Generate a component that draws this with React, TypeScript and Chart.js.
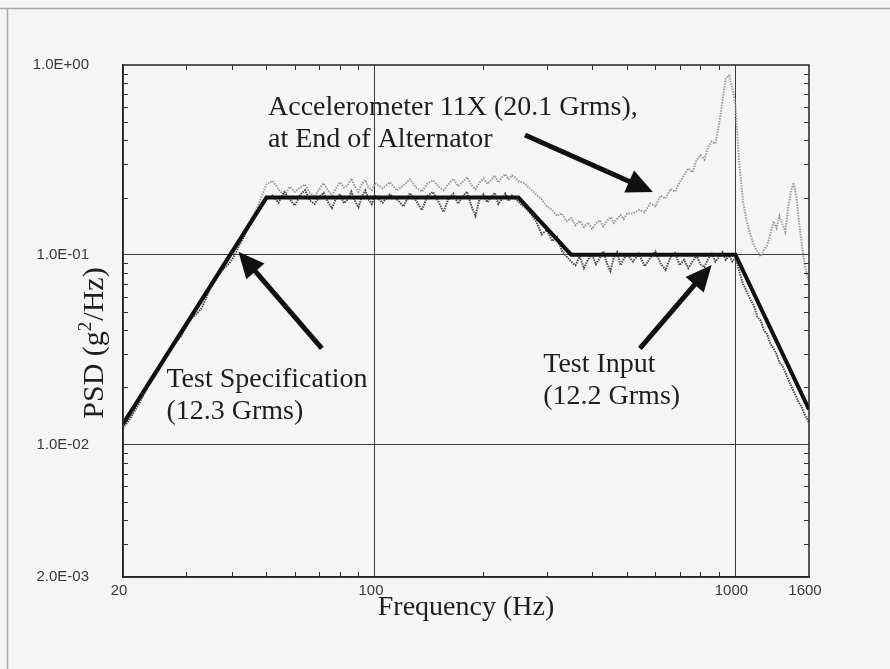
import React, { useEffect, useRef } from 'react';
import { Chart, registerables } from 'chart.js';

Chart.register(...registerables);

// Shared frequency grid of the measured traces (Hz)
const FREQ = [
  20, 21, 22, 23, 24, 25, 26, 27, 28, 29, 30, 31, 32, 33, 34, 35, 36, 37, 38, 39, 40, 41, 42, 43, 44, 45, 46, 47, 48, 49, 50,
  52, 54, 56, 58, 60, 62, 64, 66, 68, 70, 72, 74, 76, 78, 80, 82, 84, 86, 88, 90, 92, 94, 96, 98, 100,
  105, 110, 115, 120, 125, 130, 135, 140, 145, 150, 155, 160, 165, 170, 175, 180, 185, 190, 195, 200, 205, 210, 215, 220, 225, 230, 235, 240, 245, 250,
  260, 270, 280, 290, 300, 310, 320, 330, 340, 350, 360, 370, 380, 390, 400, 410, 420, 430, 440, 450, 460, 470, 480, 490, 500,
  520, 540, 560, 580, 600, 620, 640, 660, 680, 700, 720, 740, 760, 780, 800, 820, 840, 860, 880, 900, 920, 940, 960, 980, 1000,
  1025, 1050, 1075, 1100, 1125, 1150, 1175, 1200, 1225, 1250, 1275, 1300, 1325, 1350, 1375, 1400, 1425, 1450, 1475, 1500, 1525, 1550, 1575, 1600,
];

// Test Input (12.2 Grms), g^2/Hz
const INPUT_PSD = [
  0.0122, 0.0138, 0.016, 0.0188, 0.0215, 0.0242, 0.0275, 0.0312, 0.0344, 0.0372, 0.0418, 0.0462, 0.0488, 0.052, 0.059, 0.0672, 0.0728, 0.079, 0.0842, 0.088, 0.0935, 0.101, 0.112, 0.121, 0.133, 0.144, 0.152, 0.164, 0.178, 0.185, 0.196,
  0.205, 0.188, 0.214, 0.196, 0.182, 0.207, 0.219, 0.193, 0.185, 0.201, 0.212, 0.19, 0.176, 0.198, 0.209, 0.187, 0.195, 0.215, 0.192, 0.178, 0.203, 0.218, 0.196, 0.185, 0.205,
  0.188, 0.208, 0.196, 0.18, 0.211, 0.193, 0.172, 0.205, 0.214, 0.19, 0.168, 0.198, 0.21, 0.186, 0.202, 0.215, 0.181, 0.16, 0.196, 0.208, 0.189, 0.201, 0.212, 0.185, 0.197, 0.21, 0.192, 0.205, 0.198, 0.19,
  0.178, 0.165, 0.15, 0.128, 0.135, 0.118, 0.124, 0.105, 0.098, 0.092, 0.088, 0.098, 0.085, 0.094, 0.101, 0.089, 0.096, 0.104, 0.09, 0.082, 0.097, 0.103, 0.088, 0.095, 0.1,
  0.092, 0.101, 0.087, 0.096, 0.104, 0.09, 0.083, 0.097, 0.102, 0.088, 0.094, 0.085, 0.092, 0.099, 0.089, 0.086, 0.095, 0.101, 0.092, 0.097, 0.103, 0.094, 0.099, 0.092, 0.096,
  0.082, 0.07, 0.064, 0.058, 0.054, 0.047, 0.045, 0.04, 0.038, 0.034, 0.032, 0.03, 0.027, 0.026, 0.024, 0.022, 0.0205, 0.019, 0.0178, 0.0166, 0.0158, 0.0146, 0.0138, 0.013,
];

// Accelerometer 11X (20.1 Grms), at End of Alternator, g^2/Hz
const ACCEL_PSD = [
  0.0135, 0.015, 0.017, 0.02, 0.0228, 0.0255, 0.029, 0.0322, 0.036, 0.04, 0.044, 0.048, 0.053, 0.0585, 0.064, 0.07, 0.076, 0.083, 0.09, 0.096, 0.104, 0.112, 0.12, 0.129, 0.139, 0.15, 0.162, 0.176, 0.193, 0.215, 0.235,
  0.245, 0.222, 0.205, 0.228, 0.215, 0.226, 0.234, 0.212, 0.202, 0.221, 0.238, 0.219, 0.206, 0.224, 0.241, 0.226, 0.232, 0.252, 0.229, 0.214, 0.236, 0.248, 0.226, 0.219, 0.238,
  0.224, 0.241, 0.218, 0.232, 0.25, 0.226, 0.215, 0.238, 0.247, 0.229, 0.219, 0.236, 0.251, 0.23, 0.242, 0.256, 0.233, 0.221, 0.24, 0.252, 0.236, 0.248, 0.262, 0.24, 0.255, 0.266, 0.25, 0.262, 0.255, 0.245,
  0.238, 0.222, 0.208, 0.196, 0.18, 0.172, 0.16, 0.165, 0.15, 0.156, 0.143, 0.151, 0.14, 0.148, 0.137, 0.146, 0.152, 0.141, 0.15, 0.158, 0.147, 0.155, 0.162, 0.154, 0.165,
  0.165, 0.172, 0.168, 0.186, 0.18, 0.205, 0.198, 0.222, 0.215, 0.24, 0.262, 0.285, 0.272, 0.315, 0.335, 0.318, 0.37, 0.395, 0.385, 0.48, 0.64, 0.85, 0.88, 0.76, 0.62,
  0.3, 0.19, 0.15, 0.128, 0.112, 0.104, 0.098, 0.106, 0.112, 0.128, 0.15, 0.138, 0.16, 0.145, 0.132, 0.175, 0.215, 0.24, 0.205, 0.15, 0.118, 0.092, 0.08, 0.072,
];

// Test Specification (12.3 Grms) breakpoints
const SPEC_FREQ = [20, 50, 250, 350, 1000, 1600];
const SPEC_PSD = [0.0128, 0.2, 0.2, 0.1, 0.1, 0.0153];

// Axes
const X_TICKS = [20, 100, 1000, 1600];
const X_TICK_LABELS = ['20', '100', '1000', '1600'];
const X_GRID = [100, 1000];
const X_MINOR = [30, 40, 50, 60, 70, 80, 90, 200, 300, 400, 500, 600, 700, 800, 900];
const Y_TICKS = [0.002, 0.01, 0.1, 1];
const Y_TICK_LABELS = ['2.0E-03', '1.0E-02', '1.0E-01', '1.0E+00'];
const Y_GRID = [0.01, 0.1];
const Y_MINOR = [0.003, 0.004, 0.005, 0.006, 0.007, 0.008, 0.009, 0.02, 0.03, 0.04, 0.05, 0.06, 0.07, 0.08, 0.09, 0.2, 0.3, 0.4, 0.5, 0.6, 0.7, 0.8, 0.9];

const X_TITLE = 'Frequency (Hz)';
const Y_TITLE_PARTS = ['PSD (g', '2', '/Hz)'];

// Annotations, anchored in data coordinates (Hz, g^2/Hz)
const NOTES = [
  { lines: ['Accelerometer 11X (20.1 Grms),', 'at End of Alternator'], f: 50.5, v: 0.545 },
  { lines: ['Test Specification', '(12.3 Grms)'], f: 26.4, v: 0.0201 },
  { lines: ['Test Input', '(12.2 Grms)'], f: 293, v: 0.02416 },
];
const ARROWS = [
  { from: [260.7, 0.4276], to: [590.3, 0.214] },
  { from: [71.2, 0.0321], to: [41.8, 0.1037] },
  { from: [543.4, 0.0321], to: [859, 0.0882] },
];

const SERIF = '"Liberation Serif", "Times New Roman", Times, serif';
const SANS = '"Liberation Sans", Arial, Helvetica, sans-serif';

const decorPlugin = {
  id: 'decor',
  beforeDraw(chart: any) {
    const { ctx, width, height } = chart;
    ctx.save();
    ctx.fillStyle = '#f4f5f4';
    ctx.fillRect(0, 0, width, height);
    ctx.strokeStyle = '#a8a8a8';
    ctx.lineWidth = 1.5;
    ctx.beginPath();
    ctx.moveTo(0, 8.5);
    ctx.lineTo(width, 8.5);
    ctx.moveTo(7.5, 8.5);
    ctx.lineTo(7.5, height);
    ctx.stroke();
    ctx.restore();
  },
  afterDraw(chart: any) {
    const { ctx, chartArea: ca } = chart;
    const xs = chart.scales.x;
    const ys = chart.scales.y;
    ctx.save();
    // frame
    ctx.strokeStyle = '#222';
    ctx.lineWidth = 1.5;
    ctx.strokeRect(ca.left, ca.top, ca.right - ca.left, ca.bottom - ca.top);
    // inward minor ticks
    ctx.lineWidth = 1;
    ctx.strokeStyle = '#333';
    ctx.beginPath();
    const tl = 5;
    X_MINOR.forEach((v) => {
      const px = Math.round(xs.getPixelForValue(v)) + 0.5;
      ctx.moveTo(px, ca.bottom);
      ctx.lineTo(px, ca.bottom - tl);
      ctx.moveTo(px, ca.top);
      ctx.lineTo(px, ca.top + tl);
    });
    Y_MINOR.forEach((v) => {
      const py = Math.round(ys.getPixelForValue(v)) + 0.5;
      ctx.moveTo(ca.left, py);
      ctx.lineTo(ca.left + tl, py);
      ctx.moveTo(ca.right, py);
      ctx.lineTo(ca.right - tl, py);
    });
    ctx.stroke();

    // arrows
    ctx.fillStyle = '#111';
    ctx.strokeStyle = '#111';
    ARROWS.forEach((a) => {
      const x0 = xs.getPixelForValue(a.from[0]);
      const y0 = ys.getPixelForValue(a.from[1]);
      const x1 = xs.getPixelForValue(a.to[0]);
      const y1 = ys.getPixelForValue(a.to[1]);
      const dx = x1 - x0;
      const dy = y1 - y0;
      const len = Math.hypot(dx, dy);
      const ux = dx / len;
      const uy = dy / len;
      const hl = 26;
      const hw = 12;
      const bx = x1 - ux * hl;
      const by = y1 - uy * hl;
      ctx.lineWidth = 5;
      ctx.lineCap = 'butt';
      ctx.beginPath();
      ctx.moveTo(x0, y0);
      ctx.lineTo(bx + ux * 4, by + uy * 4);
      ctx.stroke();
      ctx.beginPath();
      ctx.moveTo(x1, y1);
      ctx.lineTo(bx - uy * hw, by + ux * hw);
      ctx.lineTo(bx + uy * hw, by - ux * hw);
      ctx.closePath();
      ctx.fill();
    });

    // annotation texts
    ctx.fillStyle = '#1e1e1e';
    ctx.font = `28px ${SERIF}`;
    ctx.textAlign = 'left';
    ctx.textBaseline = 'alphabetic';
    NOTES.forEach((n) => {
      const px = xs.getPixelForValue(n.f);
      const py = ys.getPixelForValue(n.v);
      n.lines.forEach((line, i) => ctx.fillText(line, px, py + i * 32));
    });

    // x title
    ctx.textAlign = 'center';
    ctx.fillText(X_TITLE, (ca.left + ca.right) / 2, ca.bottom + 38);

    // y title (rotated, with superscript)
    ctx.translate(ca.left - 20, (ca.top + ca.bottom) / 2 + 22);
    ctx.rotate(-Math.PI / 2);
    ctx.textAlign = 'left';
    const big = `30px ${SERIF}`;
    const small = `19px ${SERIF}`;
    ctx.font = big;
    const w1 = ctx.measureText(Y_TITLE_PARTS[0]).width;
    const w3 = ctx.measureText(Y_TITLE_PARTS[2]).width;
    ctx.font = small;
    const w2 = ctx.measureText(Y_TITLE_PARTS[1]).width + 1;
    let cx = -(w1 + w2 + w3) / 2;
    ctx.font = big;
    ctx.fillText(Y_TITLE_PARTS[0], cx, 0);
    cx += w1;
    ctx.font = small;
    ctx.fillText(Y_TITLE_PARTS[1], cx, -12);
    cx += w2;
    ctx.font = big;
    ctx.fillText(Y_TITLE_PARTS[2], cx, 0);
    ctx.restore();
  },
};

export default function App() {
  const canvasRef = useRef<HTMLCanvasElement | null>(null);

  useEffect(() => {
    const canvas = canvasRef.current;
    if (!canvas) return;
    const chart = new Chart(canvas, {
      type: 'line',
      data: {
        datasets: [
          {
            label: 'Test Specification',
            data: SPEC_FREQ.map((f, i) => ({ x: f, y: SPEC_PSD[i] })),
            borderColor: '#111111',
            borderWidth: 4,
            pointRadius: 0,
            tension: 0,
          },
          {
            label: 'Test Input',
            data: FREQ.map((f, i) => ({ x: f, y: INPUT_PSD[i] })),
            borderColor: '#4e4e4e',
            borderWidth: 2,
            borderDash: [1.5, 1],
            pointRadius: 0,
            tension: 0,
          },
          {
            label: 'Accelerometer 11X',
            data: FREQ.map((f, i) => ({ x: f, y: ACCEL_PSD[i] })),
            borderColor: '#9c9c9c',
            borderWidth: 2,
            borderDash: [1.5, 1.2],
            pointRadius: 0,
            tension: 0,
          },
        ],
      },
      options: {
        responsive: false,
        animation: false,
        events: [],
        layout: { padding: { top: 65, right: 81, left: 0, bottom: 0 } },
        plugins: {
          legend: { display: false },
          tooltip: { enabled: false },
          title: { display: false },
        },
        scales: {
          x: {
            type: 'logarithmic',
            min: 20,
            max: 1600,
            afterBuildTicks: (s: any) => {
              s.ticks = X_TICKS.map((v) => ({ value: v }));
            },
            afterFit: (s: any) => {
              s.height = 92;
            },
            ticks: {
              autoSkip: false,
              maxRotation: 0,
              padding: 5,
              labelOffset: -4,
              color: '#3a3a3a',
              font: { family: SANS, size: 15 },
              callback: (_v: any, i: number) => X_TICK_LABELS[i],
            },
            grid: {
              drawTicks: false,
              lineWidth: 1,
              color: (c: any) => (c.tick && X_GRID.includes(c.tick.value) ? '#3a3a3a' : 'rgba(0,0,0,0)'),
            },
            border: { display: true, color: '#222', width: 1.5 },
          },
          y: {
            type: 'logarithmic',
            min: 0.002,
            max: 1,
            afterBuildTicks: (s: any) => {
              s.ticks = Y_TICKS.map((v) => ({ value: v }));
            },
            afterFit: (s: any) => {
              s.width = 123;
            },
            ticks: {
              autoSkip: false,
              padding: 34,
              color: '#3a3a3a',
              font: { family: SANS, size: 15 },
              callback: (_v: any, i: number) => Y_TICK_LABELS[i],
            },
            grid: {
              drawTicks: false,
              lineWidth: 1,
              color: (c: any) => (c.tick && Y_GRID.includes(c.tick.value) ? '#3a3a3a' : 'rgba(0,0,0,0)'),
            },
            border: { display: true, color: '#222', width: 1.5 },
          },
        },
      },
      plugins: [decorPlugin],
    } as any);
    return () => chart.destroy();
  }, []);

  return (
    <div style={{ position: 'fixed', left: 0, top: 0, width: 890, height: 669 }}>
      <canvas ref={canvasRef} width={890} height={669} style={{ display: 'block' }} />
    </div>
  );
}
